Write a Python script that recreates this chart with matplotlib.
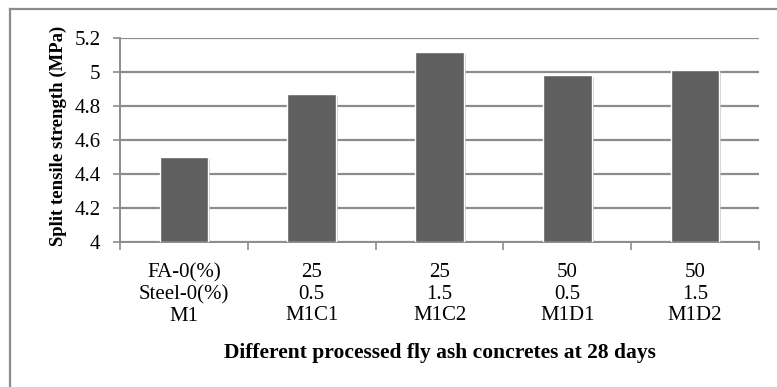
import numpy as np
import matplotlib.pyplot as plt
import matplotlib.patheffects as pe
from matplotlib.lines import Line2D

plt.rcParams['font.family'] = ['Liberation Serif', 'DejaVu Serif']

# split tensile strength at 28 days (MPa)
mixes = ['M1', 'M1C1', 'M1C2', 'M1D1', 'M1D2']
fly_ash = ['FA-0(%)', '25', '25', '50', '50']
steel = ['Steel-0(%)', '0.5', '1.5', '0.5', '1.5']
strength = [4.50, 4.87, 5.12, 4.98, 5.01]

yticks = [4, 4.2, 4.4, 4.6, 4.8, 5, 5.2]
ytick_labels = ['4', '4.2', '4.4', '4.6', '4.8', '5', '5.2']

fig = plt.figure(figsize=(7.77, 3.87), dpi=100)
ax = fig.add_axes([120 / 777, 1 - 242 / 387, 639 / 777, 204 / 387])

x = np.arange(len(mixes))
bars = ax.bar(x, np.array(strength) - 4, bottom=4, width=0.38, color='#5f5f5f',
              edgecolor='white', linewidth=1.0, zorder=3)
for b in bars:
    b.set_path_effects([pe.SimplePatchShadow(offset=(1.5, -1.5), shadow_rgbFace='#b0b0b0', alpha=0.6),
                        pe.Normal()])

ax.set_xlim(-0.5, len(mixes) - 0.5)
ax.set_ylim(4, 5.2)
ax.set_yticks(yticks)
ax.set_yticklabels(ytick_labels, fontsize=15)
ax.yaxis.grid(True, color='#8c8c8c', linewidth=1.6, zorder=0)
ax.set_axisbelow(True)

labels = [f'{a}\n{s}\n{m}' for a, s, m in zip(fly_ash, steel, mixes)]
ax.set_xticks(x)
ax.set_xticklabels(labels, fontsize=15, linespacing=1.2)
ax.tick_params(axis='x', which='major', length=0, pad=15)
ax.set_xticks(np.arange(-0.5, len(mixes), 1), minor=True)
ax.tick_params(axis='x', which='minor', length=6, width=1.2, color='#8c8c8c', direction='out')
ax.tick_params(axis='y', length=5, width=1.2, color='#8c8c8c', direction='out', pad=9)

for side in ['top', 'right']:
    ax.spines[side].set_visible(False)
for side in ['left', 'bottom']:
    ax.spines[side].set_color('#8c8c8c')
    ax.spines[side].set_linewidth(1.4)

ax.set_ylabel('Split tensile strength (MPa)', fontsize=13.5, fontweight='bold')
ax.yaxis.set_label_coords(-53 / 639, 0.52)
ax.set_xlabel('Different processed fly ash concretes at 28 days', fontsize=15.5,
              fontweight='bold', labelpad=12)

# chart frame
fig.add_artist(Line2D([10 / 777, 10 / 777], [0, 1 - 9 / 387], transform=fig.transFigure,
                      color='#8c8c8c', linewidth=1.6))
fig.add_artist(Line2D([10 / 777, 1], [1 - 9 / 387, 1 - 9 / 387], transform=fig.transFigure,
                      color='#8c8c8c', linewidth=1.6))

fig.savefig('out.png', dpi=100)
